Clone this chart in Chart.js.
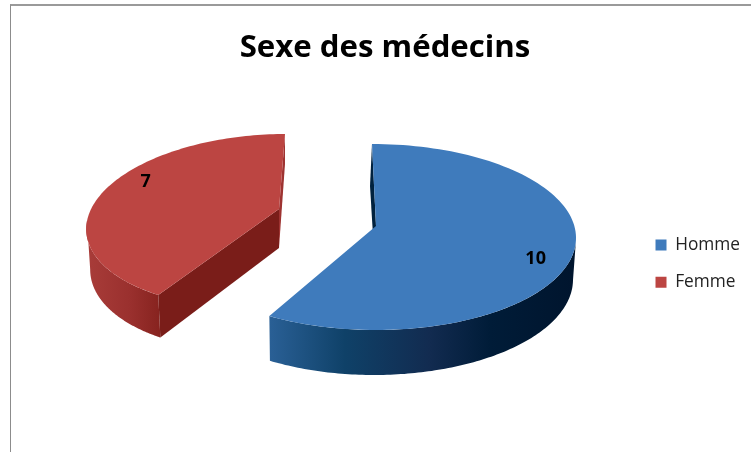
<!DOCTYPE html>
<html>
<head>
<meta charset="utf-8">
<title>Sexe des médecins</title>
<style>
  html, body { margin: 0; padding: 0; background: #fff; overflow: hidden; }
  #wrap { position: relative; width: 751px; height: 452px; }
  #frame { position: absolute; left: 10px; top: 4px; right: 0; bottom: 0; border-left: 1px solid #8c8c8c; border-top: 2px solid #9a9a9a; }
  canvas { position: absolute; left: 0; top: 0; }
</style>
<script src="https://cdn.jsdelivr.net/npm/chart.js@4"></script>
</head>
<body>
<div id="wrap">
  <div id="frame"></div>
  <canvas id="chart" width="751" height="452"></canvas>
</div>
<script>
const categories = ['Homme', 'Femme'];
const values = [10, 7];
const colors = ['#3f7bbc', '#bc4542'];

// how each slice sits on the page (the 3d look is faked with these)
// cx,cy,rx,ry,s = top rim ellipse, b* = bottom rim ellipse, apex = inner corner
const slices = [
  {
    cx: 374, cy: 237, rx: 202, ry: 93, s: 2,
    bcx: 375, bcy: 280, brx: 198, bry: 95, bs: -1,
    apex: [376, 226], apexDown: [375, 268], wallDown: [370, 186],
    labelShift: [-2, 0],
    sideTop: 0.05, sideBottom: 0,
    side: [[269, '#2a6096'], [345, '#0f4168'], [430, '#122b50'], [490, '#001c38'], [572, '#00152e']],
    wall: '#00223f'
  },
  {
    cx: 268, cy: 221, rx: 181, ry: 87, s: -17,
    bcx: 268, bcy: 261, brx: 177, bry: 90, bs: -17,
    apex: [279, 209], apexDown: [279, 248], wallDown: [285, 164],
    labelShift: [20, -19],
    sideTop: Math.PI, sideBottom: Math.PI * 0.97,
    side: [[88, '#a83c39'], [130, '#9a302e'], [160, '#87231f']],
    wall: '#9e3331',
    cut: '#7a1d19'
  }
];

function rimPoint(p, t, bottom) {
  if (bottom) return [p.bcx + p.brx * Math.cos(t) + p.bs * Math.sin(t), p.bcy + p.bry * Math.sin(t)];
  return [p.cx + p.rx * Math.cos(t) + p.s * Math.sin(t), p.cy + p.ry * Math.sin(t)];
}

function tracePoints(ctx, pts) {
  ctx.beginPath();
  pts.forEach((pt, i) => i ? ctx.lineTo(pt[0], pt[1]) : ctx.moveTo(pt[0], pt[1]));
  ctx.closePath();
}

function rimPoints(p, a0, a1, bottom) {
  const pts = [];
  const steps = 120;
  for (let i = 0; i <= steps; i++) pts.push(rimPoint(p, a0 + (a1 - a0) * i / steps, bottom));
  return pts;
}

function drawSlice(ctx, arc, p) {
  const a0 = arc.startAngle;
  const a1 = arc.endAngle;
  const isFirst = a0 < 0;

  // wall seen behind the slice
  const wallTop = rimPoint(p, isFirst ? a0 : a1);
  ctx.fillStyle = p.wall;
  tracePoints(ctx, [wallTop, p.wallDown, p.apexDown, p.apex]);
  ctx.fill();

  // outer side, only the part of the rim that faces us
  const grad = ctx.createLinearGradient(p.side[0][0], 0, p.side[p.side.length - 1][0], 0);
  const x0 = p.side[0][0];
  const x1 = p.side[p.side.length - 1][0];
  p.side.forEach(c => grad.addColorStop((c[0] - x0) / (x1 - x0), c[1]));
  ctx.fillStyle = grad;
  const top = isFirst ? rimPoints(p, p.sideTop, a1) : rimPoints(p, a0, p.sideTop);
  const down = isFirst ? rimPoints(p, a1, p.sideBottom, true) : rimPoints(p, p.sideBottom, a0, true);
  tracePoints(ctx, top.concat(down));
  ctx.fill();

  // cut face in front
  if (p.cut) {
    ctx.fillStyle = p.cut;
    tracePoints(ctx, [p.apex, rimPoint(p, a0), rimPoint(p, a0, true), p.apexDown]);
    ctx.fill();
  }

  // top face
  ctx.fillStyle = arc.options.backgroundColor;
  tracePoints(ctx, [p.apex].concat(rimPoints(p, a0, a1)));
  ctx.fill();
}

const pie3d = {
  id: 'pie3d',
  beforeDatasetsDraw(chart) {
    const ctx = chart.ctx;
    const arcs = chart.getDatasetMeta(0).data;
    ctx.save();
    // red one sits behind
    [1, 0].forEach(i => drawSlice(ctx, arcs[i], slices[i]));
    ctx.fillStyle = '#000';
    ctx.font = 'bold 18px "Open Sans"';
    ctx.textAlign = 'center';
    ctx.textBaseline = 'middle';
    arcs.forEach((arc, i) => {
      const p = slices[i];
      const mid = (arc.startAngle + arc.endAngle) / 2;
      const x = p.cx + 0.84 * (p.rx * Math.cos(mid) + p.s * Math.sin(mid)) + p.labelShift[0];
      const y = p.cy + 0.84 * p.ry * Math.sin(mid) + p.labelShift[1];
      ctx.fillText(String(values[i]), x, y);
    });
    ctx.restore();
    return false;
  }
};

new Chart(document.getElementById('chart'), {
  type: 'pie',
  data: {
    labels: categories,
    datasets: [{ data: values, backgroundColor: colors, borderWidth: 0 }]
  },
  plugins: [pie3d],
  options: {
    responsive: false,
    animation: false,
    layout: { padding: { left: 20, top: 29, right: 1, bottom: 20 } },
    plugins: {
      title: {
        display: true,
        text: 'Sexe des médecins',
        color: '#000',
        font: { family: '"Open Sans"', size: 31.2, weight: 'bold' },
        padding: { top: 0, bottom: 29 }
      },
      legend: {
        position: 'right',
        fullSize: false,
        labels: {
          boxWidth: 11,
          boxHeight: 11,
          color: '#222',
          font: { family: '"Open Sans"', size: 17.3 },
          padding: 20
        }
      },
      tooltip: { enabled: false }
    }
  }
});
</script>
</body>
</html>
